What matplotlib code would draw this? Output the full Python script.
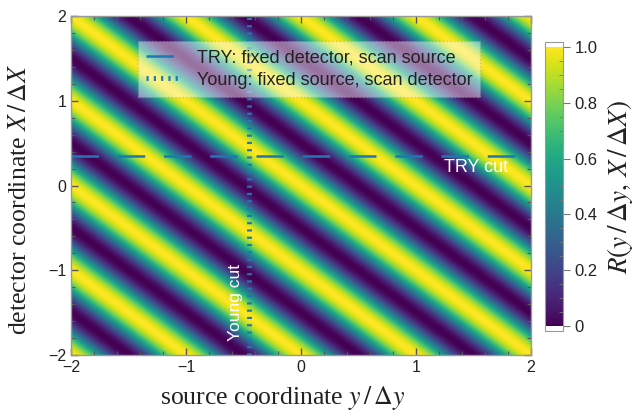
import numpy as np
import matplotlib
matplotlib.use("Agg")
import matplotlib.pyplot as plt
from matplotlib.lines import Line2D
from matplotlib.ticker import MultipleLocator, FuncFormatter

# ---- data / parameters ----
y_range = [-2.0, 2.0]          # source coordinate y/Δy
X_range = [-2.0, 2.0]          # detector coordinate X/ΔX
fringe_period = 1.0            # period along y+X
fringe_phase = 0.0
try_cut_X = 0.35               # TRY: fixed detector position
young_cut_y = -0.45            # Young: fixed source position
x_ticks = [-2, -1, 0, 1, 2]
y_ticks = [-2, -1, 0, 1, 2]
cbar_ticks = [0, 0.2, 0.4, 0.6, 0.8, 1.0]
legend_labels = ["TRY: fixed detector, scan source", "Young: fixed source, scan detector"]

n = 600
yy = np.linspace(y_range[0], y_range[1], n)
XX = np.linspace(X_range[0], X_range[1], n)
Y, X = np.meshgrid(yy, XX)
R = np.cos(np.pi * (Y + X) / fringe_period + fringe_phase) ** 2

plt.rcParams['font.family'] = ['Liberation Sans', 'DejaVu Sans']
plt.rcParams['mathtext.fontset'] = 'stix'

fig = plt.figure(figsize=(6.34, 4.16), dpi=100)
ax = fig.add_axes([71/634, 1-355/416, 460/634, 339/416])
cax = fig.add_axes([545/634, 1-331/416, 18/634, 289/416])

cmap = plt.get_cmap('viridis').copy()
cmap.set_over('white')
cmap.set_under('white')
im = ax.imshow(R, extent=[y_range[0], y_range[1], X_range[0], X_range[1]],
               origin='lower', aspect='auto', cmap=cmap, vmin=0, vmax=1,
               interpolation='bilinear')

blue = '#1f77b4'
try_style = (0, (11, 7.5))
young_style = (0, (0.45, 1.05))
# TRY cut (horizontal dashed)
ax.plot(y_range, [try_cut_X, try_cut_X], color=blue, lw=1.8,
        linestyle=try_style, dash_capstyle='butt')
# Young cut (vertical dotted, thick)
ax.plot([young_cut_y, young_cut_y], X_range, color=blue, lw=3.5,
        linestyle=young_style, dash_capstyle='butt')

ax.text(1.8, 0.31, "TRY cut", color='white', fontsize=13, ha='right', va='top')
ax.text(-0.57, -1.83, "Young cut", color='white', fontsize=12.5, ha='center',
        va='bottom', rotation=90)

ax.set_xlim(y_range)
ax.set_ylim(X_range)
ax.set_xticks(x_ticks)
ax.set_yticks(y_ticks)
ax.xaxis.set_minor_locator(MultipleLocator(0.2))
ax.yaxis.set_minor_locator(MultipleLocator(0.2))
fmt = FuncFormatter(lambda v, p: ("\u2212%g" % abs(v)) if v < 0 else "%g" % v)
ax.xaxis.set_major_formatter(fmt)
ax.yaxis.set_major_formatter(fmt)
ax.tick_params(which='both', direction='in', top=True, right=True,
               colors='#555555', labelcolor='#222222', labelsize=11.5)
ax.tick_params(which='major', length=5, width=1)
ax.tick_params(which='minor', length=3, width=0.8)
for s in ax.spines.values():
    s.set_color('#999999')
    s.set_linewidth(1)

ax.set_xlabel(r"source coordinate $y\,/\,\Delta y$", family='Liberation Serif',
              fontsize=18.5, color='#222222')
ax.set_ylabel(r"detector coordinate $X\,/\,\Delta X$", family='Liberation Serif',
              fontsize=18.5, color='#222222')
ax.xaxis.set_label_coords(0.459, -0.085)
ax.yaxis.set_label_coords(-0.087, 0.46)

handles = [
    Line2D([], [], color=blue, lw=1.8, linestyle=try_style, dash_capstyle='butt'),
    Line2D([], [], color=blue, lw=3.5, linestyle=young_style, dash_capstyle='butt'),
]
leg = ax.legend(handles, legend_labels, loc='upper left',
                bbox_to_anchor=((138-71)/460, (355-41)/339), borderaxespad=0,
                fontsize=13, frameon=True, fancybox=False, framealpha=0.45,
                handlelength=2.0, handletextpad=0.8, labelspacing=0.3,
                borderpad=0.45)
leg.get_frame().set_facecolor('white')
leg.get_frame().set_edgecolor('#999999')
leg.get_frame().set_linestyle(':')
for t in leg.get_texts():
    t.set_color('#222222')

cb = fig.colorbar(im, cax=cax, extend='both', extendrect=True, extendfrac=0.018)
cb.set_ticks(cbar_ticks)
cb.ax.yaxis.set_major_formatter(FuncFormatter(lambda v, p: "0" if v == 0 else "%.1f" % v))
cb.ax.yaxis.set_minor_locator(MultipleLocator(0.05))
cb.ax.tick_params(which='major', direction='out', length=5, colors='#777777',
                  labelcolor='#222222', labelsize=12)
cb.ax.tick_params(which='minor', direction='in', length=3, colors='#777777')
cb.outline.set_edgecolor('#999999')
cb.set_label(r"$R(y\,/\,\Delta y,\,X\,/\,\Delta X)$", fontsize=19.5, color='#222222',
             labelpad=5)

fig.savefig("out.png", dpi=100)
